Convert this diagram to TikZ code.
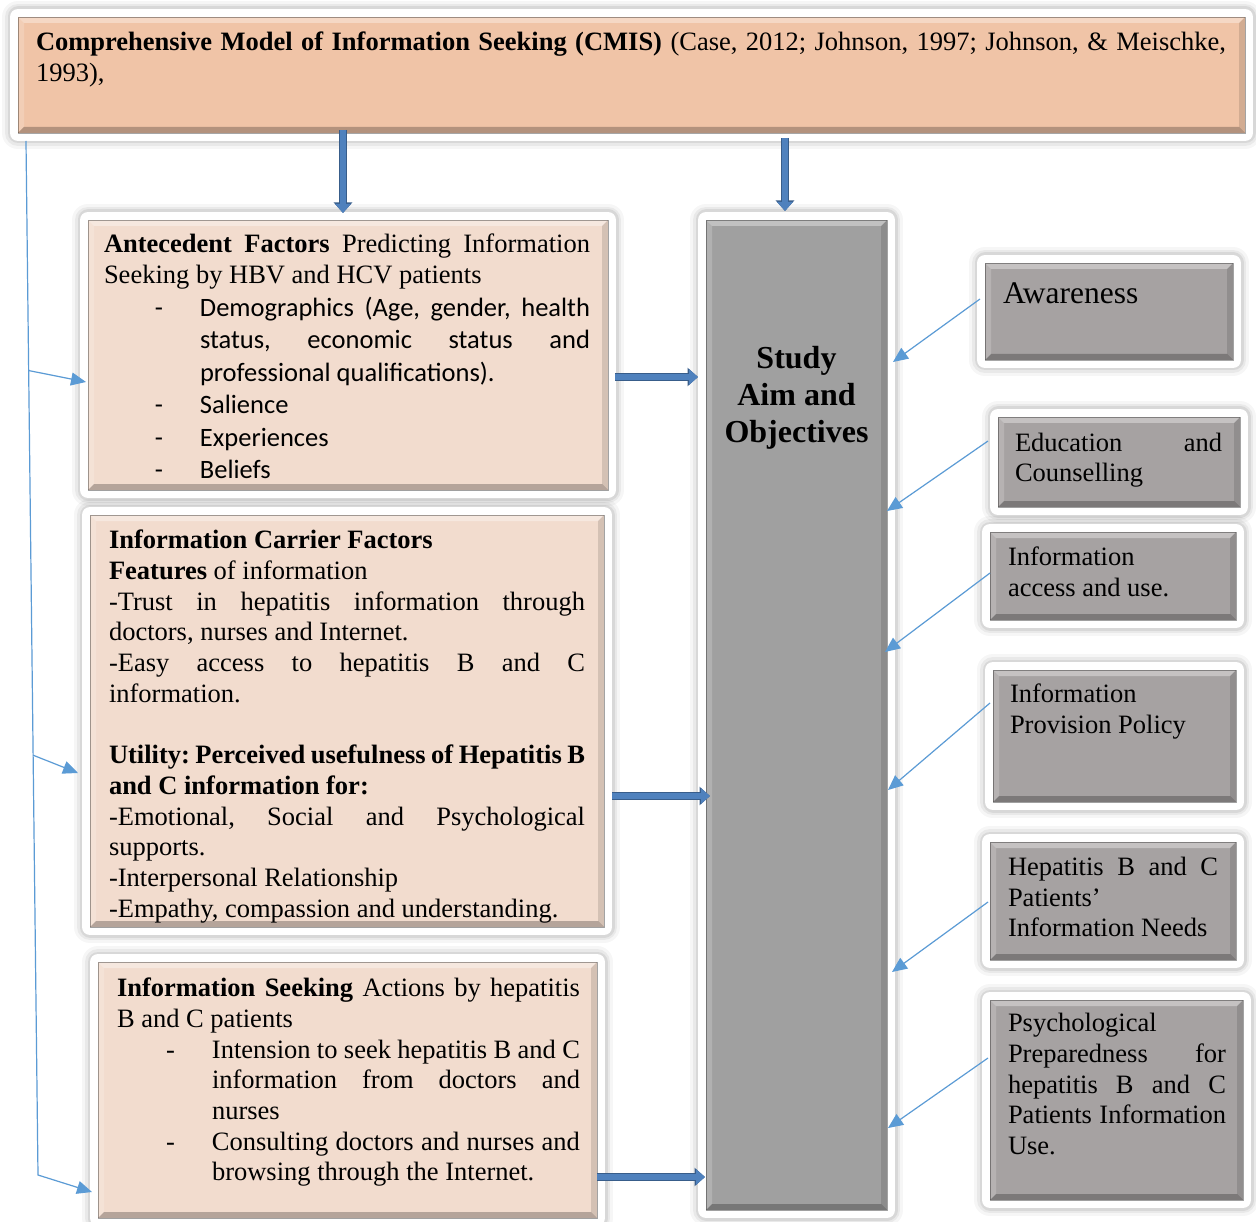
\documentclass[tikz,border=0pt]{standalone}
\usepackage{fontspec}
\setmainfont{Liberation Serif}
\newfontfamily\carl{Carlito}
\usetikzlibrary{arrows.meta,calc}
\definecolor{peachD}{HTML}{F0C4A7}
\definecolor{peachL}{HTML}{F2DCCE}
\definecolor{grayS}{HTML}{A0A0A0}
\definecolor{grayR}{HTML}{A6A2A2}
\definecolor{arrB}{HTML}{4F81BD}
\definecolor{arrD}{HTML}{385D8A}
\definecolor{thinB}{HTML}{5B9BD5}
\newcommand\fsTM{\fontsize{26.5}{31}\selectfont}
\newcommand\lnJ[1]{\hbox to \hsize{\strut #1}}
\newcommand\lnR[1]{\hbox to \hsize{\strut #1\hfil}}
\newcommand\lnC[1]{\hbox to \hsize{\hfil\strut #1\hfil}}
\newcommand\lnBJ[2]{\hbox to \hsize{\strut\hskip #1pt\relax\llap{-\hskip 37pt\relax}#2}}
\newcommand\lnBR[2]{\hbox to \hsize{\strut\hskip #1pt\relax\llap{-\hskip 37pt\relax}#2\hfil}}
\newcommand\lnIJ[2]{\hbox to \hsize{\strut\hskip #1pt\relax #2}}
\newcommand\lnIR[2]{\hbox to \hsize{\strut\hskip #1pt\relax #2\hfil}}
\newcommand\txtbox[2]{\vbox{\hsize=#1pt\relax\lineskiplimit=-100pt\relax\frenchspacing #2}}
\tikzset{
  box/.style={rectangle, inner sep=0pt, outer sep=0pt, anchor=north west,
    draw=black, draw opacity=0.35, line width=0.7pt,
    preaction={draw=black, draw opacity=0.035, line width=32pt, line join=round},
    preaction={draw=black, draw opacity=0.05, line width=26pt, line join=round},
    preaction={draw=black, draw opacity=0.07, line width=21pt, line join=round},
    preaction={draw=white, draw opacity=1, line width=16pt, line join=round},
    path picture={
      \fill[white,fill opacity=.35] (path picture bounding box.north west) -- (path picture bounding box.north east) -- ([shift={(-6pt,-6pt)}]path picture bounding box.north east) -- ([shift={(6pt,-6pt)}]path picture bounding box.north west) -- cycle;
      \fill[white,fill opacity=.18] (path picture bounding box.north west) -- ([shift={(6pt,-6pt)}]path picture bounding box.north west) -- ([shift={(6pt,6pt)}]path picture bounding box.south west) -- (path picture bounding box.south west) -- cycle;
      \fill[black,fill opacity=.12] (path picture bounding box.north east) -- ([shift={(-6pt,-6pt)}]path picture bounding box.north east) -- ([shift={(-6pt,6pt)}]path picture bounding box.south east) -- (path picture bounding box.south east) -- cycle;
      \fill[black,fill opacity=.25] (path picture bounding box.south west) -- ([shift={(6pt,6pt)}]path picture bounding box.south west) -- ([shift={(-6pt,6pt)}]path picture bounding box.south east) -- (path picture bounding box.south east) -- cycle;
    }},
  txt/.style={anchor=north west, inner sep=0pt, outer sep=0pt},
  bigarr/.style={draw=arrB, line width=6pt, -{Triangle[length=9pt,width=15pt]},
    preaction={draw=arrD, line width=8pt, -{Triangle[length=10.5pt,width=18pt]}}},
  thinarr/.style={draw=thinB, line width=1.2pt, -{Triangle[length=15pt,width=13pt]}},
}
\begin{document}
\begin{tikzpicture}[x=1pt,y=-1pt]
\useasboundingbox (0,0) rectangle (1256,1222);
\fill[white] (0,0) rectangle (1256,1222);

% boxes
\node[box, fill=peachD, minimum width=1227pt, minimum height=116pt] (top) at (18,17) {};
\node[box, fill=peachL, minimum width=520pt, minimum height=270pt] (ante) at (88,220) {};
\node[box, fill=peachL, minimum width=514pt, minimum height=412pt] (carr) at (90,515) {};
\node[box, fill=peachL, minimum width=499pt, minimum height=256pt] (seek) at (98,962) {};
\node[box, fill=grayS, minimum width=181pt, minimum height=990pt] (study) at (706,220) {};
\node[box, fill=grayR, minimum width=248pt, minimum height=97pt] (aware) at (985,263) {};
\node[box, fill=grayR, minimum width=242pt, minimum height=90pt] (edu) at (998,417) {};
\node[box, fill=grayR, minimum width=246pt, minimum height=88pt] (acc) at (990,532) {};
\node[box, fill=grayR, minimum width=243pt, minimum height=132pt] (prov) at (993,670) {};
\node[box, fill=grayR, minimum width=246pt, minimum height=118pt] (needs) at (990,842) {};
\node[box, fill=grayR, minimum width=253pt, minimum height=200pt] (psych) at (990,1000) {};

% texts
\node[txt] (tTop) at ($(top.north west)+(18,12)$) {\txtbox{1190}{\fsTM
\lnJ{\textbf{Comprehensive Model of Information Seeking (CMIS)} (Case, 2012; Johnson, 1997; Johnson, \& Meischke,}
\lnR{1993),}}};

\node[txt] (tAnte) at ($(ante.north west)+(16,11)$) {\txtbox{486}{\fsTM
\lnJ{\textbf{Antecedent Factors} Predicting Information}
\lnR{Seeking by HBV and HCV patients}
\carl\baselineskip=32.5pt
\lnBJ{96}{Demographics (Age, gender, health}
\lnIJ{96}{status, economic status and}
\lnIR{96}{professional qualifications).}
\lnBR{96}{Salience}
\lnBR{96}{Experiences}
\lnBR{96}{Beliefs}}};

\node[txt] (tCarr) at ($(carr.north west)+(19,12)$) {\txtbox{476}{\fsTM\baselineskip=30.7pt
\lnR{\textbf{Information Carrier Factors}}
\lnR{\textbf{Features} of information}
\lnJ{-Trust in hepatitis information through}
\lnR{doctors, nurses and Internet.}
\lnJ{-Easy access to hepatitis B and C}
\lnR{information.}
\lnR{}
\lnJ{\textbf{Utility: Perceived usefulness of Hepatitis B}}
\lnR{\textbf{and C information for:}}
\lnJ{-Emotional, Social and Psychological}
\lnR{supports.}
\lnR{-Interpersonal Relationship}
\lnR{-Empathy, compassion and understanding.}}};

\node[txt] (tSeek) at ($(seek.north west)+(19,13)$) {\txtbox{463}{\fsTM\baselineskip=30.7pt
\lnJ{\textbf{Information Seeking} Actions by hepatitis}
\lnR{B and C patients}
\lnBJ{95}{Intension to seek hepatitis B and C}
\lnIJ{95}{information from doctors and}
\lnIR{95}{nurses}
\lnBJ{95}{Consulting doctors and nurses and}
\lnIR{95}{browsing through the Internet.}}};

\node[txt] (tStudy) at ($(study.north west)+(0,123)$) {\txtbox{181}{\fontsize{32}{37}\selectfont\bfseries
\lnC{Study}\lnC{Aim and}\lnC{Objectives}}};

\node[txt] (tAware) at ($(aware.north west)+(18,15)$) {\txtbox{225}{\fontsize{31.5}{36}\selectfont\lnR{Awareness}}};
\node[txt] (tEdu) at ($(edu.north west)+(17,13)$) {\txtbox{207}{\fsTM\baselineskip=30pt
\lnJ{Education and}\lnR{Counselling}}};
\node[txt] (tAcc) at ($(acc.north west)+(18,12)$) {\txtbox{220}{\fsTM
\lnR{Information}\lnR{access and use.}}};
\node[txt] (tProv) at ($(prov.north west)+(17,11)$) {\txtbox{220}{\fsTM
\lnR{Information}\lnR{Provision Policy}}};
\node[txt] (tNeeds) at ($(needs.north west)+(18,12)$) {\txtbox{210}{\fsTM\baselineskip=30.5pt
\lnJ{Hepatitis B and C}\lnR{Patients’}\lnR{Information Needs}}};
\node[txt] (tPsych) at ($(psych.north west)+(18,10)$) {\txtbox{218}{\fsTM\baselineskip=30.7pt
\lnR{Psychological}\lnJ{Preparedness for}\lnJ{hepatitis B and C}\lnJ{Patients Information}\lnR{Use.}}};

% thick arrows
\coordinate (xa) at (343,0);
\coordinate (xb) at (785,0);
\coordinate (ya) at (0,377);
\coordinate (yb) at (0,796);
\coordinate (yc) at (0,1177);
\draw[bigarr] ($(top.south -| xa)+(0,-3)$) -- ($(ante.north -| xa)+(0,-7)$);
\draw[bigarr] ($(top.south -| xb)+(0,5)$) -- ($(study.north -| xb)+(0,-9)$);
\draw[bigarr] ($(ante.east |- ya)+(7,0)$) -- ($(study.west |- ya)+(-8,0)$);
\draw[bigarr] ($(carr.east |- yb)+(8,0)$) -- ($(study.west |- yb)+(4,0)$);
\draw[bigarr] (seek.east |- yc) -- ($(study.west |- yc)+(-1,0)$);

% thin left connectors
\coordinate (lt) at ($(top.south west)+(8,8)$);
\coordinate (lb) at (38,1175);
\draw[thinarr] (lt) -- (lb) -- ($(seek.north west)+(-6,230)$);
\draw[thinarr] ($(lt)!0.222!(lb)$) -- ($(ante.north west)+(-2,162)$);
\draw[thinarr] ($(lt)!0.594!(lb)$) -- ($(carr.north west)+(-12,258)$);

% thin right connectors
\draw[thinarr] ($(aware.north west)+(-5,36)$) -- ($(study.north east)+(6,142)$);
\draw[thinarr] ($(edu.north west)+(-10,24)$) -- ($(study.north east)+(0,291)$);
\draw[thinarr] ($(acc.north west)+(0,41)$) -- ($(study.north east)+(-2,432)$);
\draw[thinarr] ($(prov.north west)+(-3,33)$) -- ($(study.north east)+(1,570)$);
\draw[thinarr] ($(needs.north west)+(-2,60)$) -- ($(study.north east)+(5,752)$);
\draw[thinarr] ($(psych.north west)+(-2,58)$) -- ($(study.north east)+(1,908)$);
\end{tikzpicture}
\end{document}
